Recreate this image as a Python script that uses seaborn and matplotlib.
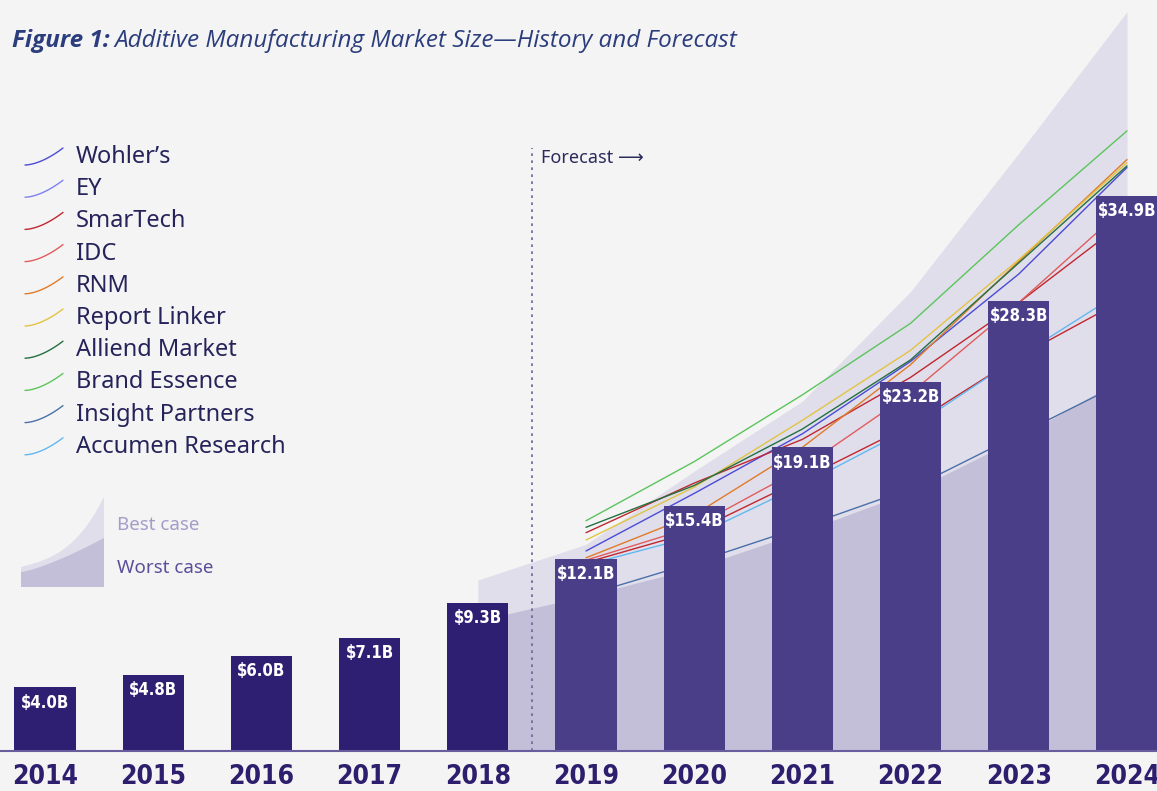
import numpy as np
import pandas as pd
import matplotlib
matplotlib.use("Agg")
import matplotlib.pyplot as plt
from matplotlib.lines import Line2D
from matplotlib.patches import Polygon
import seaborn as sns

# bars: market size history + forecast ($B)
YEARS = [2014, 2015, 2016, 2017, 2018, 2019, 2020, 2021, 2022, 2023, 2024]
MARKET_SIZE = [4.0, 4.8, 6.0, 7.1, 9.3, 12.1, 15.4, 19.1, 23.2, 28.3, 34.9]
BAR_LABELS = ["$4.0B", "$4.8B", "$6.0B", "$7.1B", "$9.3B", "$12.1B",
              "$15.4B", "$19.1B", "$23.2B", "$28.3B", "$34.9B"]
PHASE = ["history"] * 5 + ["forecast"] * 6

# shaded scenario band
SCENARIO_YEARS = [2018, 2019, 2020, 2021, 2022, 2023, 2024]
BEST_CASE = [10.75, 13.0, 17.6, 22.0, 28.9, 37.6, 46.5]
WORST_CASE = [8.2, 9.75, 11.5, 13.8, 16.3, 19.7, 23.6]

# analyst forecasts
FORECAST_YEARS = [2019, 2020, 2021, 2022, 2023, 2024]
SOURCES = ["Wohler\u2019s", "EY", "SmarTech", "IDC", "RNM", "Report Linker",
           "Alliend Market", "Brand Essence", "Insight Partners", "Accumen Research"]
WOHLERS = [12.58, 16.2, 19.95, 24.5, 30.0, 36.7]
EY = [11.85, 13.8, 17.1, 20.5, 24.8, 28.5]
SMARTECH = [13.73, 16.85, 19.6, 23.5, 28.2, 33.4]
IDC = [12.0, 14.1, 17.8, 22.5, 28.2, 34.3]
RNM = [12.15, 14.85, 19.1, 24.3, 30.8, 37.2]
REPORT_LINKER = [13.27, 16.6, 20.8, 25.2, 30.9, 37.0]
ALLIEND = [14.07, 16.7, 20.25, 24.6, 30.7, 36.8]
BRAND_ESSENCE = [14.48, 18.2, 22.4, 26.9, 33.1, 39.0]
INSIGHT = [9.8, 11.85, 14.1, 16.5, 19.9, 23.3]
ACCUMEN = [11.7, 13.5, 16.75, 20.3, 24.8, 29.1]

LEGEND_COLORS = ["#4b4bd6", "#8080f0", "#c0272e", "#e05c5c", "#e07b28",
                 "#e2c443", "#24703f", "#5cc45c", "#4a70a8", "#62b8ee"]
# the EY trace is drawn red in the original artwork
LINE_COLORS = ["#4b4bd6", "#c0272e", "#c0272e", "#e05c5c", "#e07b28",
               "#e2c443", "#24703f", "#5cc45c", "#4a70a8", "#62b8ee"]

BG = "#f4f4f4"
W, H = 1157, 791


def px(x, y):
    return x / W, 1 - y / H


def main():
    sns.set_theme(style="white")
    plt.rcParams["font.family"] = ["Noto Sans", "DejaVu Sans"]

    fig = plt.figure(figsize=(W / 100, H / 100), dpi=100, facecolor=BG)
    ax = fig.add_axes([0, 40 / H, 1, 751 / H])
    ax.set_facecolor(BG)

    year_pos = {y: i for i, y in enumerate(YEARS)}

    # scenario band
    sx = [year_pos[y] for y in SCENARIO_YEARS]
    ax.fill_between(sx, 0, BEST_CASE, color="#e0deeb", lw=0, zorder=1)
    ax.fill_between(sx, 0, WORST_CASE, color="#c3bfd8", lw=0, zorder=1.1)

    # forecast lines
    series = [WOHLERS, EY, SMARTECH, IDC, RNM, REPORT_LINKER,
              ALLIEND, BRAND_ESSENCE, INSIGHT, ACCUMEN]
    rows = []
    for name, vals in zip(SOURCES, series):
        for y, v in zip(FORECAST_YEARS, vals):
            rows.append({"source": name, "pos": year_pos[y], "value": v})
    lines_df = pd.DataFrame(rows)
    sns.lineplot(data=lines_df, x="pos", y="value", hue="source",
                 hue_order=SOURCES, palette=dict(zip(SOURCES, LINE_COLORS)),
                 linewidth=1.0, legend=False, ax=ax, zorder=2)

    # bars
    bars_df = pd.DataFrame({"pos": range(len(YEARS)), "value": MARKET_SIZE,
                            "phase": PHASE})
    sns.barplot(data=bars_df, x="pos", y="value", hue="phase",
                palette={"history": "#2f1f73", "forecast": "#4b3e88"},
                dodge=False, width=0.565, native_scale=True, saturation=1,
                legend=False, ax=ax)
    for p in ax.patches:
        p.set_zorder(3)
        p.set_linewidth(0)

    for i, (v, lab) in enumerate(zip(MARKET_SIZE, BAR_LABELS)):
        ax.annotate(lab, (i, v), xytext=(0, -11), textcoords="offset points",
                    ha="center", va="center", color="white", fontsize=12,
                    fontweight="bold", family="DejaVu Sans", fontstretch="condensed",
                    zorder=4)

    # forecast divider
    ax.vlines(4.5, 0, (751 - 148) / 15.9, color="#6b6597", lw=1.2,
              linestyles=(0, (1.6, 2.6)), zorder=1.5)

    ax.set_xlim(-45 / 108.2, (W - 45) / 108.2)
    ax.set_ylim(0, 751 / 15.9)
    ax.set_xticks(range(len(YEARS)))
    ax.set_xticklabels([str(y) for y in YEARS], fontsize=19, fontweight="black",
                       color="#2e1e6e", family="DejaVu Sans", fontstretch="condensed")
    ax.tick_params(axis="x", length=0, pad=9.5)
    ax.set_yticks([])
    ax.set_xlabel("")
    ax.set_ylabel("")
    for s in ["top", "left", "right"]:
        ax.spines[s].set_visible(False)
    ax.spines["bottom"].set_color("#6a5d9e")
    ax.spines["bottom"].set_linewidth(1.5)
    ax.spines["bottom"].set_zorder(5)

    # title
    t1 = fig.text(*px(12, 41), "Figure 1:", fontsize=17.5, fontweight="bold",
                  style="italic", color="#2b3d7c", family="Open Sans", va="center")
    fig.canvas.draw()
    bb = t1.get_window_extent()
    fig.text(bb.x1 / W + 5 / W, 1 - 41 / H,
             "Additive Manufacturing Market Size\u2014History and Forecast",
             fontsize=17.5, style="italic", color="#2b3d7c", family="Open Sans",
             va="center")

    # source legend with small curved keys
    t = np.linspace(0, 1, 30)
    for k, (name, col) in enumerate(zip(SOURCES, LEGEND_COLORS)):
        yc = 157 + k * 32.2
        xs = 25 + 38 * t
        ys = yc + 8 - 17 * t ** 1.7
        fig.add_artist(Line2D(xs / W, 1 - ys / H, color=col, lw=1.0,
                              transform=fig.transFigure))
        fig.text(*px(76, yc), name, fontsize=17, color="#25245a", va="center")

    # best / worst case key
    xs = np.linspace(21, 104, 40)
    u = (xs - 21) / 83
    best_top = 567 - 22 * u - 48 * u ** 3
    worst_top = 572 - 34 * u ** 1.3
    best_poly = np.column_stack([np.r_[xs, xs[::-1]], np.r_[best_top, np.full(40, 587)]])
    worst_poly = np.column_stack([np.r_[xs, xs[::-1]], np.r_[worst_top, np.full(40, 587)]])
    for poly, col in [(best_poly, "#e0deeb"), (worst_poly, "#c3bfd8")]:
        pts = np.column_stack([poly[:, 0] / W, 1 - poly[:, 1] / H])
        fig.add_artist(Polygon(pts, closed=True, color=col, lw=0,
                               transform=fig.transFigure))
    fig.text(*px(117, 525), "Best case", fontsize=13.5, color="#a59cc8", va="center")
    fig.text(*px(117, 568), "Worst case", fontsize=13.5, color="#5a4f99", va="center")

    fig.text(*px(541, 158), "Forecast \u27f6", fontsize=13, color="#2b2a5c", va="center",
             family=["Noto Sans", "DejaVu Sans"])

    fig.savefig("out.png", dpi=100, facecolor=BG)


if __name__ == "__main__":
    main()
